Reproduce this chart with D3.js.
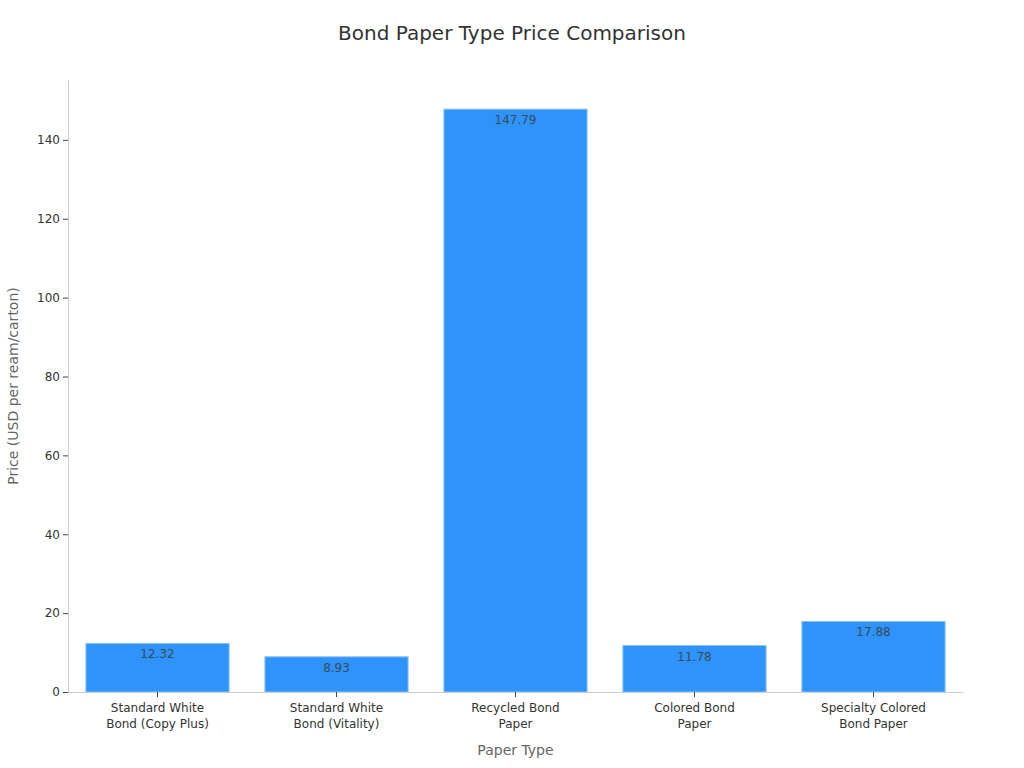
<!DOCTYPE html>
<html>
<head>
<meta charset="utf-8">
<script src="https://cdn.jsdelivr.net/npm/d3@7"></script>
<style>
  body { margin: 0; background: #fff; }
  svg { font-family: "DejaVu Sans", sans-serif; }
</style>
</head>
<body>
<svg id="chart" width="1024" height="768"></svg>
<script>
const categories = [
  "Standard White Bond (Copy Plus)",
  "Standard White Bond (Vitality)",
  "Recycled Bond Paper",
  "Colored Bond Paper",
  "Specialty Colored Bond Paper"
];
const categoryLines = [
  ["Standard White", "Bond (Copy Plus)"],
  ["Standard White", "Bond (Vitality)"],
  ["Recycled Bond", "Paper"],
  ["Colored Bond", "Paper"],
  ["Specialty Colored", "Bond Paper"]
];
const prices = [12.32, 8.93, 147.79, 11.78, 17.88];
const yTicks = [0, 20, 40, 60, 80, 100, 120, 140];

const width = 1024;
const height = 768;
const margin = { top: 80, right: 61, bottom: 76, left: 68 };

const svg = d3.select("#chart");

const x = d3.scaleBand()
  .domain(categories)
  .range([margin.left, width - margin.right])
  .paddingInner(0.2)
  .paddingOuter(0.1);

const y = d3.scaleLinear()
  .domain([0, d3.max(prices) * 1.05])
  .range([height - margin.bottom, margin.top]);

// Title
svg.append("text")
  .attr("x", width / 2)
  .attr("y", 40)
  .attr("text-anchor", "middle")
  .attr("font-size", 20)
  .attr("fill", "#333")
  .text("Bond Paper Type Price Comparison");

// Bars
svg.selectAll(".bar")
  .data(prices)
  .enter()
  .append("rect")
  .attr("class", "bar")
  .attr("x", (d, i) => x(categories[i]))
  .attr("y", d => y(d))
  .attr("width", x.bandwidth())
  .attr("height", d => y(0) - y(d))
  .attr("fill", "#2E93FA")
  .attr("stroke", "#8cc2fb")
  .attr("stroke-width", 1);

// Value labels
svg.selectAll(".val")
  .data(prices)
  .enter()
  .append("text")
  .attr("class", "val")
  .attr("x", (d, i) => x(categories[i]) + x.bandwidth() / 2)
  .attr("y", d => y(d) + 15)
  .attr("text-anchor", "middle")
  .attr("font-size", 12)
  .attr("fill", "#3a4a5a")
  .text(d => d.toFixed(2));

// Y axis
const yAxis = svg.append("g")
  .attr("transform", `translate(${margin.left},0)`)
  .call(d3.axisLeft(y).tickValues(yTicks).tickSize(5).tickSizeOuter(0).tickPadding(3));
yAxis.select(".domain").attr("stroke", "#ccc");
yAxis.selectAll(".tick line").attr("stroke", "#444");
yAxis.selectAll(".tick text").attr("font-size", 12).attr("fill", "#333")
  .attr("font-family", "DejaVu Sans, sans-serif");

// X axis
const xAxis = svg.append("g")
  .attr("transform", `translate(0,${height - margin.bottom})`)
  .call(d3.axisBottom(x).tickSize(5).tickSizeOuter(0).tickFormat(""));
xAxis.select(".domain").attr("stroke", "#ccc");
xAxis.selectAll(".tick line").attr("stroke", "#444");
xAxis.selectAll(".tick")
  .append("text")
  .attr("fill", "#333")
  .attr("font-size", 12)
  .attr("text-anchor", "middle")
  .attr("font-family", "DejaVu Sans, sans-serif")
  .selectAll("tspan")
  .data(d => categoryLines[categories.indexOf(d)])
  .enter()
  .append("tspan")
  .attr("x", 0)
  .attr("y", (d, i) => 20 + i * 16)
  .text(d => d);

// Axis titles
svg.append("text")
  .attr("x", (margin.left + width - margin.right) / 2)
  .attr("y", 755)
  .attr("text-anchor", "middle")
  .attr("font-size", 14)
  .attr("fill", "#666")
  .text("Paper Type");

svg.append("text")
  .attr("transform", `translate(18,${(margin.top + height - margin.bottom) / 2}) rotate(-90)`)
  .attr("text-anchor", "middle")
  .attr("font-size", 14)
  .attr("fill", "#666")
  .text("Price (USD per ream/carton)");
</script>
</body>
</html>
